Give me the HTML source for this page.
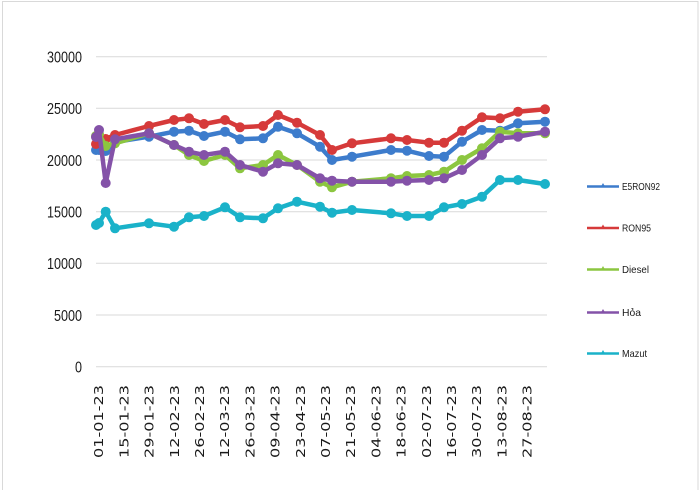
<!DOCTYPE html>
<html><head><meta charset="utf-8"><style>
html,body{margin:0;padding:0;background:#fff;}
svg{display:block;}
</style></head><body>
<svg width="700" height="490" viewBox="0 0 700 490" xmlns="http://www.w3.org/2000/svg">
<rect x="0" y="0" width="700" height="490" fill="#fff"/>
<rect x="2.5" y="1.5" width="695.5" height="500" fill="none" stroke="#d9d9d9" stroke-width="1"/>
<g stroke="#d9d9d9" stroke-width="1">
<line x1="96" y1="56.7" x2="547" y2="56.7"/>
<line x1="96" y1="108.3" x2="547" y2="108.3"/>
<line x1="96" y1="160" x2="547" y2="160"/>
<line x1="96" y1="211.7" x2="547" y2="211.7"/>
<line x1="96" y1="263.3" x2="547" y2="263.3"/>
<line x1="96" y1="315" x2="547" y2="315"/>
<line x1="96" y1="366.7" x2="547" y2="366.7"/>
</g>
<g font-family="Liberation Sans, sans-serif" font-size="16" fill="#1a1a1a" text-anchor="end">
<text x="82" y="62.5" textLength="35" lengthAdjust="spacingAndGlyphs">30000</text>
<text x="82" y="114" textLength="35" lengthAdjust="spacingAndGlyphs">25000</text>
<text x="82" y="165.8" textLength="35" lengthAdjust="spacingAndGlyphs">20000</text>
<text x="82" y="217.5" textLength="35" lengthAdjust="spacingAndGlyphs">15000</text>
<text x="82" y="269" textLength="35" lengthAdjust="spacingAndGlyphs">10000</text>
<text x="82" y="320.8" textLength="28" lengthAdjust="spacingAndGlyphs">5000</text>
<text x="82" y="372.5" textLength="7" lengthAdjust="spacingAndGlyphs">0</text>
</g>
<g font-family="DejaVu Sans, sans-serif" font-size="12.5" fill="#1a1a1a">
<text transform="translate(103.2,458) rotate(-90)" textLength="73" lengthAdjust="spacingAndGlyphs">01-01-23</text>
<text transform="translate(128.4,458) rotate(-90)" textLength="73" lengthAdjust="spacingAndGlyphs">15-01-23</text>
<text transform="translate(153.6,458) rotate(-90)" textLength="73" lengthAdjust="spacingAndGlyphs">29-01-23</text>
<text transform="translate(178.8,458) rotate(-90)" textLength="73" lengthAdjust="spacingAndGlyphs">12-02-23</text>
<text transform="translate(204,458) rotate(-90)" textLength="73" lengthAdjust="spacingAndGlyphs">26-02-23</text>
<text transform="translate(229.2,458) rotate(-90)" textLength="73" lengthAdjust="spacingAndGlyphs">12-03-23</text>
<text transform="translate(254.4,458) rotate(-90)" textLength="73" lengthAdjust="spacingAndGlyphs">26-03-23</text>
<text transform="translate(279.6,458) rotate(-90)" textLength="73" lengthAdjust="spacingAndGlyphs">09-04-23</text>
<text transform="translate(304.8,458) rotate(-90)" textLength="73" lengthAdjust="spacingAndGlyphs">23-04-23</text>
<text transform="translate(330,458) rotate(-90)" textLength="73" lengthAdjust="spacingAndGlyphs">07-05-23</text>
<text transform="translate(355.2,458) rotate(-90)" textLength="73" lengthAdjust="spacingAndGlyphs">21-05-23</text>
<text transform="translate(380.4,458) rotate(-90)" textLength="73" lengthAdjust="spacingAndGlyphs">04-06-23</text>
<text transform="translate(405.6,458) rotate(-90)" textLength="73" lengthAdjust="spacingAndGlyphs">18-06-23</text>
<text transform="translate(430.8,458) rotate(-90)" textLength="73" lengthAdjust="spacingAndGlyphs">02-07-23</text>
<text transform="translate(456,458) rotate(-90)" textLength="73" lengthAdjust="spacingAndGlyphs">16-07-23</text>
<text transform="translate(481.2,458) rotate(-90)" textLength="73" lengthAdjust="spacingAndGlyphs">30-07-23</text>
<text transform="translate(506.4,458) rotate(-90)" textLength="73" lengthAdjust="spacingAndGlyphs">13-08-23</text>
<text transform="translate(531.6,458) rotate(-90)" textLength="73" lengthAdjust="spacingAndGlyphs">27-08-23</text>
</g>

<!-- E5RON92 -->
<g stroke="#3d7ccc" fill="#3d7ccc">
<polyline fill="none" stroke-width="4.5" stroke-linejoin="round" points="96,150 99,150 105.7,151 115,142 149,136.7 174,131.7 189,130.7 204,136 225,131.7 240,139.3 263,138.3 278,126.7 297,133.3 320,146.7 332,160 352,156.7 391,150 407,150.7 429,156 444,156.7 462,141.7 482,130 500,130.7 518,123.3 545,121.7"/>
<g stroke="none">
<circle cx="96" cy="150" r="5"/><circle cx="99" cy="150" r="5"/><circle cx="105.7" cy="151" r="5"/><circle cx="115" cy="142" r="5"/><circle cx="149" cy="136.7" r="5"/><circle cx="174" cy="131.7" r="5"/><circle cx="189" cy="130.7" r="5"/><circle cx="204" cy="136" r="5"/><circle cx="225" cy="131.7" r="5"/><circle cx="240" cy="139.3" r="5"/><circle cx="263" cy="138.3" r="5"/><circle cx="278" cy="126.7" r="5"/><circle cx="297" cy="133.3" r="5"/><circle cx="320" cy="146.7" r="5"/><circle cx="332" cy="160" r="5"/><circle cx="352" cy="156.7" r="5"/><circle cx="391" cy="150" r="5"/><circle cx="407" cy="150.7" r="5"/><circle cx="429" cy="156" r="5"/><circle cx="444" cy="156.7" r="5"/><circle cx="462" cy="141.7" r="5"/><circle cx="482" cy="130" r="5"/><circle cx="500" cy="130.7" r="5"/><circle cx="518" cy="123.3" r="5"/><circle cx="545" cy="121.7" r="5"/>
</g></g>

<!-- RON95 -->
<g stroke="#d63a3a" fill="#d63a3a">
<polyline fill="none" stroke-width="4.5" stroke-linejoin="round" points="96,144 99,141 105.7,139 115,135 149,126 174,120 189,118.3 204,124 225,120 240,127.3 263,126 278,115 297,122.7 320,135 332,150 352,143.3 391,138.3 407,140 429,142.7 444,142.7 462,130.7 482,117.3 500,118.3 518,111.7 545,109.3"/>
<g stroke="none">
<circle cx="96" cy="144" r="5"/><circle cx="99" cy="141" r="5"/><circle cx="105.7" cy="139" r="5"/><circle cx="115" cy="135" r="5"/><circle cx="149" cy="126" r="5"/><circle cx="174" cy="120" r="5"/><circle cx="189" cy="118.3" r="5"/><circle cx="204" cy="124" r="5"/><circle cx="225" cy="120" r="5"/><circle cx="240" cy="127.3" r="5"/><circle cx="263" cy="126" r="5"/><circle cx="278" cy="115" r="5"/><circle cx="297" cy="122.7" r="5"/><circle cx="320" cy="135" r="5"/><circle cx="332" cy="150" r="5"/><circle cx="352" cy="143.3" r="5"/><circle cx="391" cy="138.3" r="5"/><circle cx="407" cy="140" r="5"/><circle cx="429" cy="142.7" r="5"/><circle cx="444" cy="142.7" r="5"/><circle cx="462" cy="130.7" r="5"/><circle cx="482" cy="117.3" r="5"/><circle cx="500" cy="118.3" r="5"/><circle cx="518" cy="111.7" r="5"/><circle cx="545" cy="109.3" r="5"/>
</g></g>

<!-- Diesel -->
<g stroke="#8cc640" fill="#8cc640">
<polyline fill="none" stroke-width="4.5" stroke-linejoin="round" points="96,136 99,134 105.7,146 115,143.3 149,133.3 174,145 189,155 204,161 225,155 240,168.3 263,165 278,155 297,165 320,181.7 332,187.3 352,181.7 391,178.3 407,176 429,175 444,171.7 462,160 482,148.3 500,131.7 518,133.3 545,133.3"/>
<g stroke="none">
<circle cx="96" cy="136" r="5"/><circle cx="99" cy="134" r="5"/><circle cx="105.7" cy="146" r="5"/><circle cx="115" cy="143.3" r="5"/><circle cx="149" cy="133.3" r="5"/><circle cx="174" cy="145" r="5"/><circle cx="189" cy="155" r="5"/><circle cx="204" cy="161" r="5"/><circle cx="225" cy="155" r="5"/><circle cx="240" cy="168.3" r="5"/><circle cx="263" cy="165" r="5"/><circle cx="278" cy="155" r="5"/><circle cx="297" cy="165" r="5"/><circle cx="320" cy="181.7" r="5"/><circle cx="332" cy="187.3" r="5"/><circle cx="352" cy="181.7" r="5"/><circle cx="391" cy="178.3" r="5"/><circle cx="407" cy="176" r="5"/><circle cx="429" cy="175" r="5"/><circle cx="444" cy="171.7" r="5"/><circle cx="462" cy="160" r="5"/><circle cx="482" cy="148.3" r="5"/><circle cx="500" cy="131.7" r="5"/><circle cx="518" cy="133.3" r="5"/><circle cx="545" cy="133.3" r="5"/>
</g></g>

<!-- Hoa -->
<g stroke="#8452a8" fill="#8452a8">
<polyline fill="none" stroke-width="4.5" stroke-linejoin="round" points="96,137 99,130 105.7,183 115,139.3 149,133.3 174,145 189,151.7 204,155 225,151.7 240,165 263,171.7 278,163.3 297,165 320,178.3 332,180.7 352,181.7 391,181.7 407,180.7 429,180 444,178.3 462,170 482,155 500,138.3 518,136.7 545,131.7"/>
<g stroke="none">
<circle cx="96" cy="137" r="5"/><circle cx="99" cy="130" r="5"/><circle cx="105.7" cy="183" r="5"/><circle cx="115" cy="139.3" r="5"/><circle cx="149" cy="133.3" r="5"/><circle cx="174" cy="145" r="5"/><circle cx="189" cy="151.7" r="5"/><circle cx="204" cy="155" r="5"/><circle cx="225" cy="151.7" r="5"/><circle cx="240" cy="165" r="5"/><circle cx="263" cy="171.7" r="5"/><circle cx="278" cy="163.3" r="5"/><circle cx="297" cy="165" r="5"/><circle cx="320" cy="178.3" r="5"/><circle cx="332" cy="180.7" r="5"/><circle cx="352" cy="181.7" r="5"/><circle cx="391" cy="181.7" r="5"/><circle cx="407" cy="180.7" r="5"/><circle cx="429" cy="180" r="5"/><circle cx="444" cy="178.3" r="5"/><circle cx="462" cy="170" r="5"/><circle cx="482" cy="155" r="5"/><circle cx="500" cy="138.3" r="5"/><circle cx="518" cy="136.7" r="5"/><circle cx="545" cy="131.7" r="5"/>
</g></g>

<!-- Mazut -->
<g stroke="#1ab2c9" fill="#1ab2c9">
<polyline fill="none" stroke-width="4.5" stroke-linejoin="round" points="96,225 99,223 105.7,211.7 115,228.3 149,223.3 174,226.7 189,217.3 204,216 225,207.3 240,217.3 263,218.3 278,208.3 297,201.7 320,206.7 332,212.7 352,210 391,213.3 407,216 429,216 444,207.3 462,204 482,196.7 500,180 518,180 545,184"/>
<g stroke="none">
<circle cx="96" cy="225" r="5"/><circle cx="99" cy="223" r="5"/><circle cx="105.7" cy="211.7" r="5"/><circle cx="115" cy="228.3" r="5"/><circle cx="149" cy="223.3" r="5"/><circle cx="174" cy="226.7" r="5"/><circle cx="189" cy="217.3" r="5"/><circle cx="204" cy="216" r="5"/><circle cx="225" cy="207.3" r="5"/><circle cx="240" cy="217.3" r="5"/><circle cx="263" cy="218.3" r="5"/><circle cx="278" cy="208.3" r="5"/><circle cx="297" cy="201.7" r="5"/><circle cx="320" cy="206.7" r="5"/><circle cx="332" cy="212.7" r="5"/><circle cx="352" cy="210" r="5"/><circle cx="391" cy="213.3" r="5"/><circle cx="407" cy="216" r="5"/><circle cx="429" cy="216" r="5"/><circle cx="444" cy="207.3" r="5"/><circle cx="462" cy="204" r="5"/><circle cx="482" cy="196.7" r="5"/><circle cx="500" cy="180" r="5"/><circle cx="518" cy="180" r="5"/><circle cx="545" cy="184" r="5"/>
</g></g>

<!-- Legend -->
<g stroke-width="2.5">
<line x1="587" y1="186.5" x2="619" y2="186.5" stroke="#3d7ccc"/>
<line x1="587" y1="228" x2="619" y2="228" stroke="#d63a3a"/>
<line x1="587" y1="269.5" x2="619" y2="269.5" stroke="#8cc640"/>
<line x1="587" y1="312.5" x2="619" y2="312.5" stroke="#8452a8"/>
<line x1="587" y1="353.5" x2="619" y2="353.5" stroke="#1ab2c9"/>
</g>
<g>
<polygon points="601,186.5 605,186.5 603,183" fill="#3d7ccc"/>
<polygon points="601,228 605,228 603,224.5" fill="#d63a3a"/>
<polygon points="601,269.5 605,269.5 603,266" fill="#8cc640"/>
<polygon points="601,312.5 605,312.5 603,309" fill="#8452a8"/>
<polygon points="601,353.5 605,353.5 603,350" fill="#1ab2c9"/>
</g>
<g font-family="Liberation Sans, sans-serif" font-size="10.5" fill="#1a1a1a">
<text x="622" y="190" textLength="38" lengthAdjust="spacingAndGlyphs">E5RON92</text>
<text x="622" y="231.5" textLength="29" lengthAdjust="spacingAndGlyphs">RON95</text>
<text x="622" y="273" textLength="27" lengthAdjust="spacingAndGlyphs">Diesel</text>
<text x="622" y="316" textLength="19" lengthAdjust="spacingAndGlyphs">Hỏa</text>
<text x="622" y="357" textLength="25" lengthAdjust="spacingAndGlyphs">Mazut</text>
</g>
</svg>
</body></html>
